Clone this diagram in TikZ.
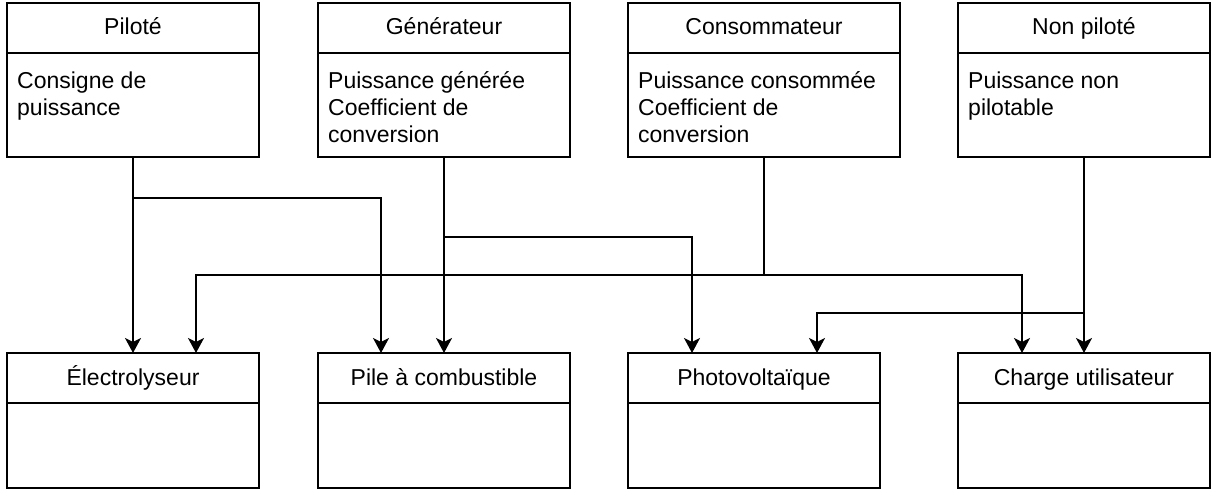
\documentclass[tikz,border=0pt]{standalone}
\usepackage{fontspec}
\setmainfont{Liberation Sans}
\usetikzlibrary{arrows.meta}
\begin{document}
\begin{tikzpicture}[x=1pt,y=-1pt,
 ln/.style={line width=1.6pt, black},
 box/.style={ln, draw, rectangle, inner sep=0pt, outer sep=0pt},
 arr/.style={ln, -{Stealth[length=15pt,width=16pt,inset=4pt]}},
 hd/.style={anchor=base, inner sep=0pt, font=\fontsize{23}{27}\selectfont},
 bd/.style={anchor=base west, inner sep=0pt, font=\fontsize{23}{27}\selectfont}]
\useasboundingbox (0,0) rectangle (1212,491);
% top boxes
\node[box, minimum width=252pt, minimum height=154pt] (pil) at (133,80) {};
\node[box, minimum width=252pt, minimum height=154pt] (gen) at (444,80) {};
\node[box, minimum width=272pt, minimum height=154pt] (con) at (764,80) {};
\node[box, minimum width=252pt, minimum height=154pt] (np) at (1084,80) {};
% bottom boxes
\node[box, minimum width=252pt, minimum height=135pt] (ele) at (133,420.5) {};
\node[box, minimum width=252pt, minimum height=135pt] (pile) at (444,420.5) {};
\node[box, minimum width=252pt, minimum height=135pt] (pv) at (754,420.5) {};
\node[box, minimum width=252pt, minimum height=135pt] (chg) at (1084,420.5) {};
% separators
\foreach \n in {pil,gen,con,np} \draw[ln] (\n.west |- 0,53) -- (\n.east |- 0,53);
\foreach \n in {ele,pile,pv,chg} \draw[ln] (\n.west |- 0,403) -- (\n.east |- 0,403);
% headers
\node[hd] (pilt) at (133,34.5) {Piloté};
\node[hd] (gent) at (444,34.5) {Générateur};
\node[hd] (cont) at (764,34.5) {Consommateur};
\node[hd] (npt) at (1084,34.5) {Non piloté};
\node[hd] (elet) at (133,385) {Électrolyseur};
\node[hd] (pilet) at (444,385) {Pile à combustible};
\node[hd] (pvt) at (754,385) {Photovoltaïque};
\node[hd] (chgt) at (1084,385) {Charge utilisateur};
% bodies
\node[bd] (pilb) at (17,88) {\parbox[t]{240pt}{Consigne de\\puissance}};
\node[bd] (genb) at (328,88) {\parbox[t]{240pt}{Puissance générée\\Coefficient de\\conversion}};
\node[bd] (conb) at (638,88) {\parbox[t]{260pt}{Puissance consommée\\Coefficient de\\conversion}};
\node[bd] (npb) at (968,88) {\parbox[t]{240pt}{Puissance non\\pilotable}};
% bend coordinates
\coordinate (p2) at (381,198);
\coordinate (g2) at (692,237);
\coordinate (c1) at (196,275);
\coordinate (c2) at (1022,275);
\coordinate (n2) at (817,313);
% connectors
\draw[arr] (pil.south) -- (ele.north);
\draw[arr] (pil.south) |- (p2) -- (p2 |- pile.north);
\draw[arr] (gen.south) -- (pile.north);
\draw[arr] (gen.south) |- (g2) -- (g2 |- pv.north);
\draw[arr] (con.south) |- (c1) -- (c1 |- ele.north);
\draw[arr] (con.south) |- (c2) -- (c2 |- chg.north);
\draw[arr] (np.south) -- (chg.north);
\draw[arr] (np.south) |- (n2) -- (n2 |- pv.north);
\end{tikzpicture}
\end{document}
